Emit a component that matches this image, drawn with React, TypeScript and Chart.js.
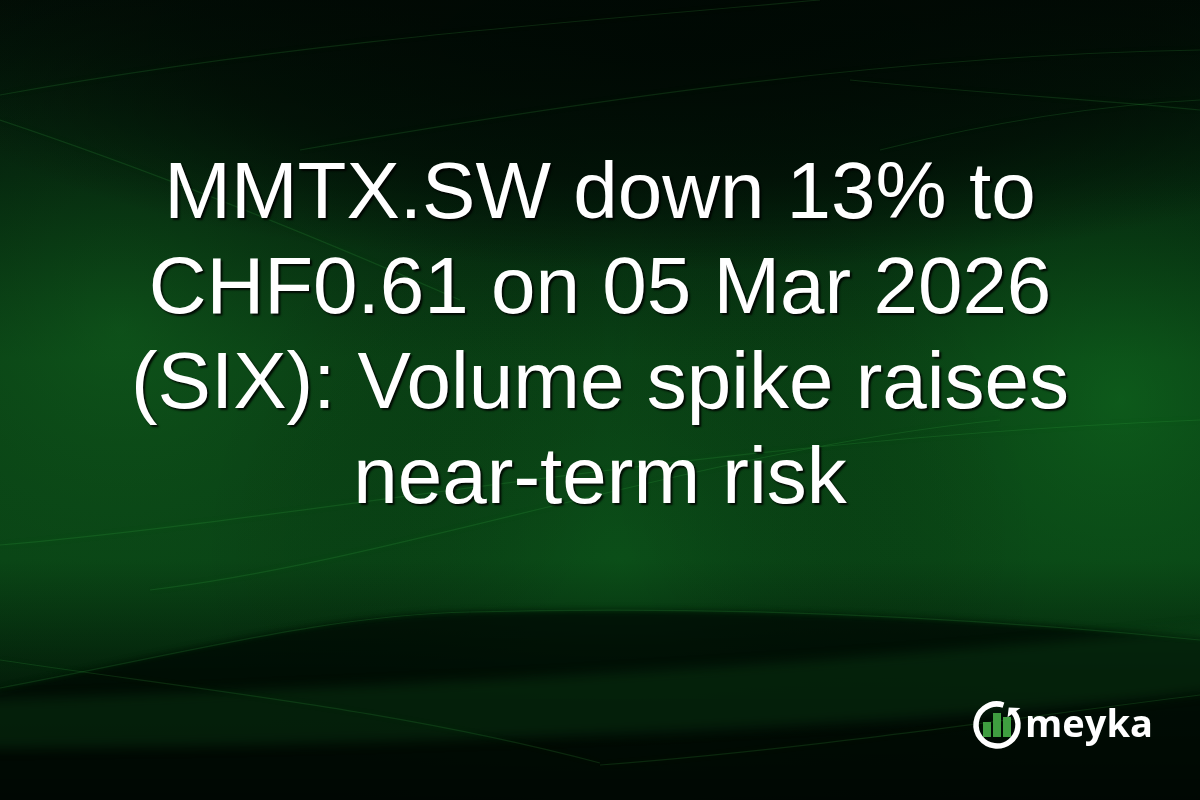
import React from "react";
import { Chart, ChartConfiguration, Plugin, registerables } from "chart.js";

Chart.register(...registerables);

// bars of the little logo icon (left, middle, right)
const logoBarLabels = ["left", "middle", "right"];
const logoBarValues = [6, 9.6, 8];

const titleLines = [
  "MMTX.SW down 13% to",
  "CHF0.61 on 05 Mar 2026",
  "(SIX): Volume spike raises",
  "near-term risk",
];
const brandName = "meyka";

const W = 1200;
const H = 800;

function drawBackground(ctx: CanvasRenderingContext2D) {
  ctx.save();
  const base = ctx.createLinearGradient(0, 0, 0, H);
  base.addColorStop(0, "#020c06");
  base.addColorStop(0.22, "#04220d");
  base.addColorStop(0.45, "#0a4516");
  base.addColorStop(0.7, "#0a4917");
  base.addColorStop(0.85, "#03200a");
  base.addColorStop(1, "#010a04");
  ctx.fillStyle = base;
  ctx.fillRect(0, 0, W, H);

  // soft brighter patches left and right
  const spots: [number, number, number, string][] = [
    [120, 330, 520, "rgba(22,110,34,0.35)"],
    [1120, 400, 520, "rgba(18,120,34,0.4)"],
    [620, 560, 420, "rgba(14,95,28,0.25)"],
  ];
  spots.forEach(([x, y, r, c]) => {
    const g = ctx.createRadialGradient(x, y, 0, x, y, r);
    g.addColorStop(0, c);
    g.addColorStop(1, "rgba(0,0,0,0)");
    ctx.fillStyle = g;
    ctx.fillRect(0, 0, W, H);
  });

  // dark sweep across the top
  ctx.save();
  ctx.translate(680, 40);
  ctx.scale(1.9, 0.55);
  const top = ctx.createRadialGradient(0, 0, 0, 0, 0, 420);
  top.addColorStop(0, "rgba(0,8,3,0.9)");
  top.addColorStop(0.6, "rgba(0,8,3,0.6)");
  top.addColorStop(1, "rgba(0,8,3,0)");
  ctx.fillStyle = top;
  ctx.fillRect(-700, -200, 1400, 800);
  ctx.restore();

  // dark wave at the bottom
  ctx.save();
  ctx.filter = "blur(3px)";
  ctx.beginPath();
  ctx.moveTo(0, 690);
  ctx.bezierCurveTo(180, 650, 330, 615, 470, 612);
  ctx.bezierCurveTo(700, 606, 950, 615, W + 20, 640);
  ctx.lineTo(W + 20, H + 20);
  ctx.lineTo(-20, H + 20);
  ctx.lineTo(-20, 692);
  ctx.closePath();
  const bot = ctx.createLinearGradient(0, 610, 0, H);
  bot.addColorStop(0, "rgba(0,12,4,0.8)");
  bot.addColorStop(1, "rgba(0,8,3,0.92)");
  ctx.fillStyle = bot;
  ctx.fill();

  // lighter band inside the bottom wave
  ctx.filter = "blur(6px)";
  ctx.beginPath();
  ctx.moveTo(-20, 700);
  ctx.bezierCurveTo(300, 690, 800, 670, W + 20, 625);
  ctx.lineTo(W + 20, 690);
  ctx.bezierCurveTo(900, 730, 400, 745, -20, 748);
  ctx.closePath();
  ctx.fillStyle = "rgba(12,70,22,0.35)";
  ctx.fill();
  ctx.restore();

  // thin glowing streaks
  ctx.shadowColor = "rgba(40,200,60,0.5)";
  ctx.shadowBlur = 6;
  ctx.strokeStyle = "rgba(70,190,80,0.16)";
  ctx.lineWidth = 1.2;
  const streaks: number[][] = [
    [0, 95, 300, 40, 600, 20, 820, 0],
    [300, 150, 600, 98, 900, 55, W, 50],
    [0, 120, 150, 170, 300, 230, 460, 300],
    [850, 80, 1000, 95, 1100, 100, W, 110],
    [880, 150, 1000, 120, 1100, 105, W, 100],
    [0, 688, 200, 650, 330, 615, 470, 612],
    [470, 612, 700, 606, 950, 615, W, 640],
    [0, 660, 200, 690, 400, 710, 600, 763],
    [600, 765, 800, 750, 1000, 720, W, 695],
    [0, 545, 300, 520, 700, 440, W, 420],
    [150, 590, 400, 560, 700, 450, 1000, 420],
  ];
  streaks.forEach((s) => {
    ctx.beginPath();
    ctx.moveTo(s[0], s[1]);
    ctx.bezierCurveTo(s[2], s[3], s[4], s[5], s[6], s[7]);
    ctx.stroke();
  });
  ctx.restore();
}

function drawLogoRing(ctx: CanvasRenderingContext2D) {
  const cx = 997;
  const cy = 725;
  const r = 21;
  const rad = (d: number) => (d * Math.PI) / 180;
  ctx.save();
  ctx.strokeStyle = "#ffffff";
  ctx.fillStyle = "#ffffff";
  ctx.lineWidth = 5.5;
  ctx.beginPath();
  ctx.arc(cx, cy, r, rad(-38), rad(288));
  ctx.stroke();
  // arrow head
  const pt = (a: number, rr: number) => [cx + rr * Math.cos(rad(a)), cy + rr * Math.sin(rad(a))];
  const [tx, ty] = pt(-56, r);
  const [ax, ay] = pt(-36, r + 8);
  const [bx, by] = pt(-36, r - 8);
  ctx.beginPath();
  ctx.moveTo(tx, ty);
  ctx.lineTo(ax, ay);
  ctx.lineTo(bx, by);
  ctx.closePath();
  ctx.fill();
  ctx.restore();
}

const backdropPlugin: Plugin<"bar"> = {
  id: "backdrop",
  beforeDraw(chart) {
    drawBackground(chart.ctx);
  },
  afterDraw(chart) {
    drawLogoRing(chart.ctx);
  },
};

const App: React.FC = () => {
  const canvasRef = React.useRef<HTMLCanvasElement | null>(null);
  const chartRef = React.useRef<Chart<"bar"> | null>(null);

  React.useEffect(() => {
    const canvas = canvasRef.current;
    if (!canvas) return;
    chartRef.current?.destroy();

    const config: ChartConfiguration<"bar"> = {
      type: "bar",
      data: {
        labels: logoBarLabels,
        datasets: [
          {
            data: logoBarValues,
            backgroundColor: "#3f9e40",
            borderWidth: 0,
            categoryPercentage: 1,
            barPercentage: 0.8,
          },
        ],
      },
      options: {
        animation: false,
        responsive: true,
        maintainAspectRatio: false,
        layout: {
          padding: { left: 982, right: W - 1012, top: 712, bottom: H - 737 },
        },
        plugins: {
          legend: { display: false },
          tooltip: { enabled: false },
        },
        scales: {
          x: { display: false },
          y: { display: false, min: 0, max: 10 },
        },
      },
      plugins: [backdropPlugin],
    };

    chartRef.current = new Chart(canvas, config);
    return () => {
      chartRef.current?.destroy();
    };
  }, []);

  return (
    <div
      style={{
        position: "fixed",
        left: 0,
        top: 0,
        width: W,
        height: H,
        overflow: "hidden",
        background: "#03200c",
      }}
    >
      <div style={{ position: "absolute", inset: 0 }}>
        <canvas ref={canvasRef} />
      </div>
      <div
        style={{
          position: "absolute",
          left: 0,
          top: 143,
          width: W,
          textAlign: "center",
          color: "#ffffff",
          fontFamily: '"Liberation Sans", Arial, Helvetica, sans-serif',
          fontSize: 80,
          lineHeight: "95px",
          whiteSpace: "nowrap",
          textShadow: "2px 2px 2px rgba(0,0,0,0.85)",
        }}
      >
        {titleLines.map((line) => (
          <div key={line}>{line}</div>
        ))}
      </div>
      <div
        style={{
          position: "absolute",
          left: 1025,
          top: 703,
          color: "#ffffff",
          fontFamily: '"Open Sans", "DejaVu Sans", sans-serif',
          fontWeight: 700,
          fontSize: 38,
          lineHeight: "38px",
          whiteSpace: "nowrap",
        }}
      >
        {brandName}
      </div>
    </div>
  );
};

export default App;
